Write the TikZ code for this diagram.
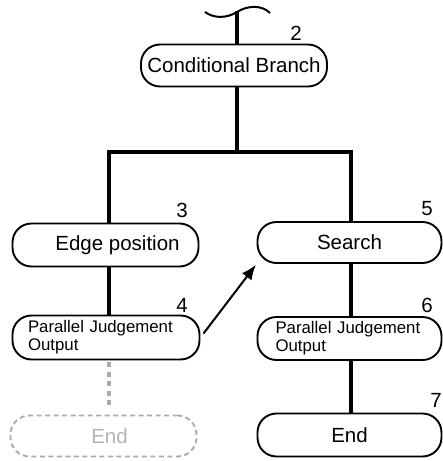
\documentclass[tikz,border=0pt]{standalone}
\usepackage{fontspec}
\setmainfont{Liberation Sans}
\usetikzlibrary{arrows.meta}
\definecolor{fadeline}{HTML}{ABABAB}
\definecolor{fadetext}{HTML}{B3B3B3}
\begin{document}
\begin{tikzpicture}[x=1pt,y=-1pt,
  box/.style={draw, line width=1.9pt, rectangle, rounded corners=19pt, inner sep=0pt,
    font=\fontsize{20.5pt}{24pt}\selectfont},
  pjbox/.style={box, font=\fontsize{16.8pt}{18pt}\selectfont, align=left},
  ghostbox/.style={box, draw=fadeline, dash pattern=on 5pt off 3.5pt, text=fadetext},
  flow/.style={line width=4pt},
  ghostflow/.style={line width=4pt, draw=fadeline, dash pattern=on 5pt off 4.5pt},
  num/.style={inner sep=0pt, font=\fontsize{20.5pt}{24pt}\selectfont},
  jump/.style={line width=2pt, -{Latex[length=15pt,width=12pt]}, shorten <=5pt, shorten >=1pt}]
\useasboundingbox (0,0) rectangle (443,461);

% nodes
\node[box, minimum width=186pt, minimum height=42pt] (cond) at (234,65.5) {Conditional Branch};
\node[box, minimum width=186pt, minimum height=43pt] (edge) at (105.5,245) {\hspace*{24pt}Edge position};
\node[pjbox, minimum width=187pt, minimum height=44pt, text width=156pt] (par4) at (106,337.5) {Parallel Judgement\\Output};
\node[ghostbox, minimum width=186pt, minimum height=41pt] (endL) at (103.5,436) {\hspace*{12pt}End};
\node[box, minimum width=184pt, minimum height=41pt] (search) at (349.5,242.5) {Search};
\node[pjbox, minimum width=184pt, minimum height=43pt, text width=148pt] (par6) at (349.5,338.5) {Parallel Judgement\\Output};
\node[box, minimum width=184pt, minimum height=43pt] (endR) at (349.5,435) {End};

% number labels
\node[num] (n2) at (296,33.5) {2};
\node[num] (n3) at (182,210.5) {3};
\node[num] (n4) at (182,305) {4};
\node[num] (n5) at (427,209) {5};
\node[num] (n6) at (427,305) {6};
\node[num] (n7) at (436,400) {7};

% helper coordinates
\coordinate (top) at (237,11);
\coordinate (split) at (237,152);
\coordinate (lx) at (109,0);
\coordinate (rx) at (350.5,0);

% break mark at the top
\draw[line width=2pt] (205,12) .. controls (213,18) and (226,19) .. (237,12)
  .. controls (248,5) and (262,5) .. (270,13);

% connectors
\draw[flow] (top) -- (cond.north -| top);
\draw[flow] (cond.south -| top) -- (split);
\draw[flow] (edge.north -| lx) |- (split) -| (search.north -| rx);
\draw[flow] (edge.south -| lx) -- (par4.north -| lx);
\draw[ghostflow] ([yshift=-2pt]par4.south -| lx) -- ([yshift=6pt]endL.north -| lx);
\draw[flow] (search.south -| rx) -- (par6.north -| rx);
\draw[flow] (par6.south -| rx) -- (endR.north -| rx);
\draw[jump] (par4.east) -- (search.south west);
\end{tikzpicture}
\end{document}
